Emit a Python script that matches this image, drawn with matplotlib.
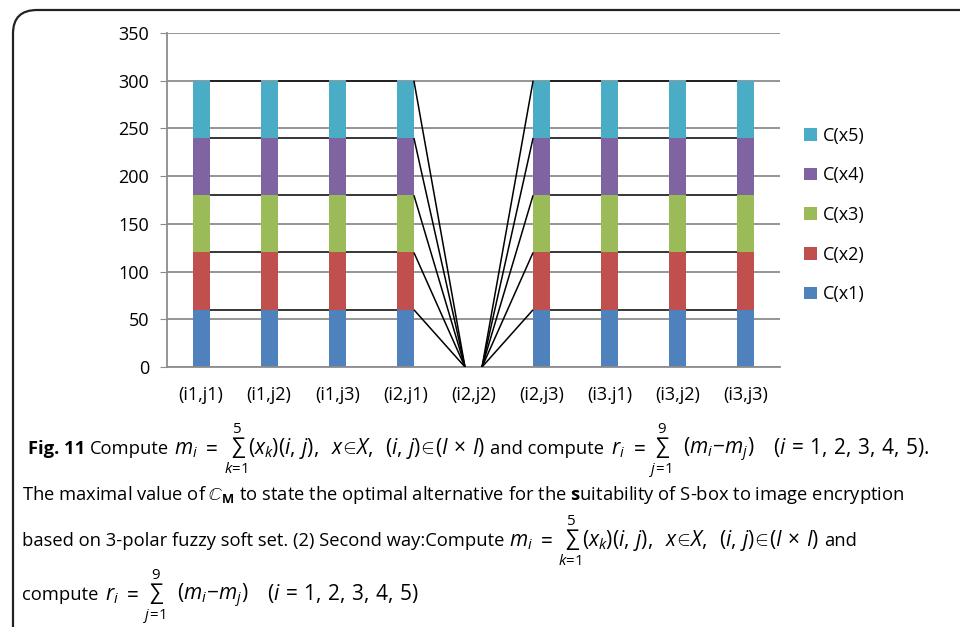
import numpy as np
from matplotlib import pyplot as plt
from matplotlib.patches import FancyBboxPatch

plt.rcParams['font.family'] = ['Open Sans', 'DejaVu Sans']
plt.rcParams['mathtext.fontset'] = 'custom'
plt.rcParams['mathtext.rm'] = 'Open Sans'
plt.rcParams['mathtext.it'] = 'Open Sans:italic'
plt.rcParams['mathtext.bf'] = 'Open Sans:bold'

# Data
categories = ['(i1,j1)', '(i1,j2)', '(i1,j3)', '(i2,j1)', '(i2,j2)',
              '(i2,j3)', '(i3.j1)', '(i3,j2)', '(i3,j3)']
series_names = ['C(x1)', 'C(x2)', 'C(x3)', 'C(x4)', 'C(x5)']
cx1 = [60, 60, 60, 60, 0, 60, 60, 60, 60]
cx2 = [60, 60, 60, 60, 0, 60, 60, 60, 60]
cx3 = [60, 60, 60, 60, 0, 60, 60, 60, 60]
cx4 = [60, 60, 60, 60, 0, 60, 60, 60, 60]
cx5 = [60, 60, 60, 60, 0, 60, 60, 60, 60]
colors = ['#4F81BD', '#C0504D', '#9BBB59', '#8064A2', '#4BACC6']
yticks = [0, 50, 100, 150, 200, 250, 300, 350]

fig = plt.figure(figsize=[9.6, 6.27], dpi=100)

# rounded frame around figure + caption (clipped at right / bottom)
frame = FancyBboxPatch((13 / 960, -0.2), 1.2, 1 - 10 / 627 + 0.2,
                       boxstyle='round,pad=0,rounding_size=0.025',
                       transform=fig.transFigure, fill=False,
                       edgecolor='#222222', lw=1.6, mutation_aspect=1.5)
fig.patches.append(frame)

ax = fig.add_axes([167 / 960, 1 - 367 / 627, 613 / 960, 334 / 627])
x = np.arange(len(categories))
w = 0.25
bottom = np.zeros(len(categories))
handles = []
for vals, name, c in zip([cx1, cx2, cx3, cx4, cx5], series_names, colors):
    vals = np.array(vals, dtype=float)
    h = ax.bar(x, vals, w, bottom=bottom, color=c, label=name, zorder=2)
    handles.append(h)
    bottom = bottom + vals
    # series lines joining the tops of each segment
    for k in range(len(x) - 1):
        ax.plot([x[k] + w / 2, x[k + 1] - w / 2], [bottom[k], bottom[k + 1]],
                color='black', lw=1.1, zorder=3, solid_capstyle='butt')

ax.set_xlim(-0.5, len(categories) - 0.5)
ax.set_ylim(0, 350)
ax.set_yticks(yticks)
ax.set_xticks(x)
ax.set_xticklabels(categories)
ax.yaxis.grid(True, color='#8c8c8c', lw=1.3, zorder=0)
ax.set_axisbelow(True)
for s in ['top', 'right']:
    ax.spines[s].set_visible(False)
for s in ['left', 'bottom']:
    ax.spines[s].set_color('#8c8c8c')
    ax.spines[s].set_linewidth(1.3)
ax.tick_params(axis='y', length=5, color='#8c8c8c', labelsize=13, pad=8)
ax.tick_params(axis='x', length=0, labelsize=13, pad=14)

ax.legend(handles[::-1], series_names[::-1], loc='center left',
          bbox_to_anchor=(1.012, 0.455), frameon=False, fontsize=13,
          handlelength=0.72, handleheight=0.72, handletextpad=0.35,
          labelspacing=1.2)

# caption, laid out piece after piece: (gap before in px, text, kind)
fs_txt = 13.2
fs_math = 15.0
fs_sum = 15.5
renderer = fig.canvas.get_renderer()


def put(y, x0, pieces):
    xp = x0
    for gap, s, kind in pieces:
        xp += gap
        size = {'t': fs_txt, 'm': fs_math, 's': fs_sum, 'b': fs_txt}[kind]
        t = fig.text(xp / 960, 1 - y / 627, s, fontsize=size, va='baseline',
                     ha='left', fontweight='bold' if kind == 'b' else 'normal')
        xp = t.get_window_extent(renderer).x1


sum_k = r'$\sum_{k\!=\!1}^{5}$'
sum_j = r'$\sum_{j\!=\!1}^{9}$'
m_sum = r'$(x_k)(i,\,j),$'
in_x = r'$x\!\in\!X,$'
in_ij = r'$(i,\,j)\!\in\!(I\,\times\,I)$'
diff = r'$(m_i\!-\!m_j)$'
idx = r'$(i\,=\,1,\,2,\,3,\,4,\,5)$'

put(454, 28, [(0, 'Fig. 11', 'b'), (5, 'Compute', 't'), (5, r'$m_i$', 'm'),
              (4, r'$=$', 'm'), (5, sum_k, 's'), (0, m_sum, 'm'),
              (12, in_x, 'm'), (12, in_ij, 'm'), (5, 'and compute', 't'),
              (7, r'$r_i$', 'm'), (4, r'$=$', 'm'), (3, sum_j, 's'),
              (12, diff, 'm'), (18, idx[:-1] + r'.$', 'm')])
put(500, 22, [(0, r'The maximal value of $\mathbb{C}_{\mathbf{M}}$ to state the optimal '
                 r'alternative for the $\mathbf{s}$uitability of S-box to image encryption', 't')])
put(546, 22, [(0, 'based on 3-polar fuzzy soft set. (2) Second way:Compute', 't'),
              (5, r'$m_i$', 'm'), (4, r'$=$', 'm'), (4, sum_k, 's'), (0, m_sum, 'm'),
              (12, in_x, 'm'), (12, in_ij, 'm'), (5, 'and', 't')])
put(600, 22, [(0, 'compute', 't'), (7, r'$r_i$', 'm'), (4, r'$=$', 'm'),
              (3, sum_j, 's'), (12, diff, 'm'), (18, idx, 'm')])

fig.savefig('out.png', dpi=100)
